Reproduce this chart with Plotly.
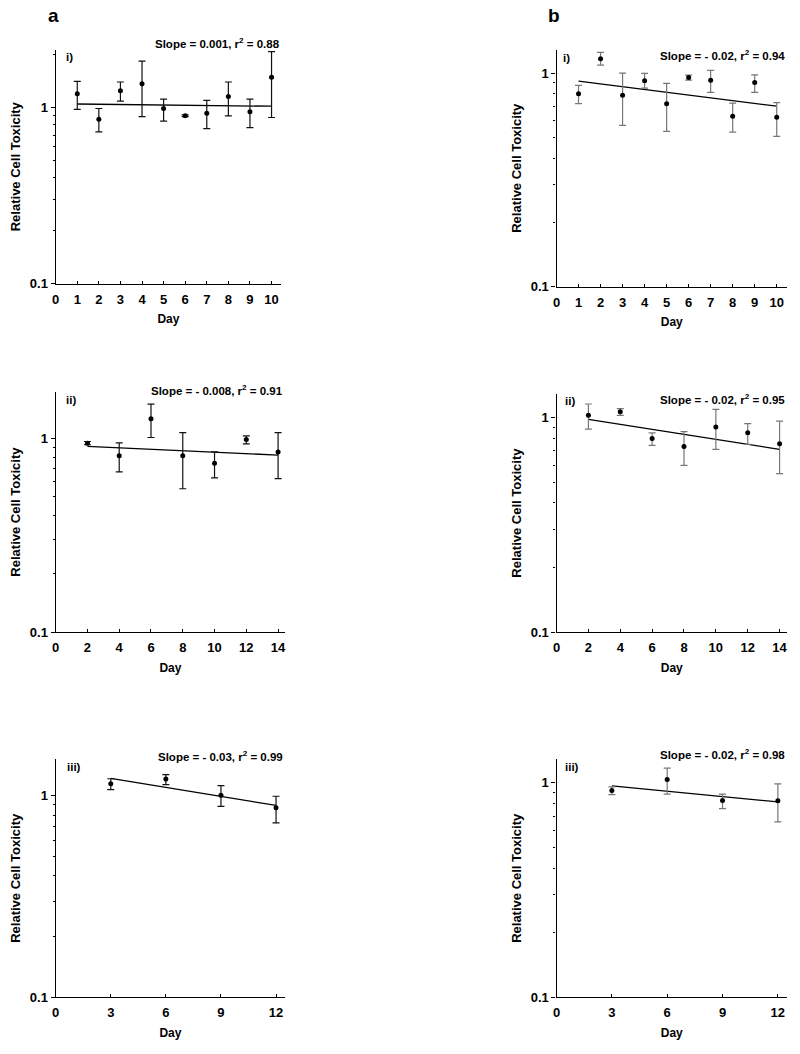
import plotly.graph_objects as go

W, H = 800, 1054

# ---------------- data ----------------
# Panel a-i
a1_day = [1, 2, 3, 4, 5, 6, 7, 8, 9, 10]
a1_val = [1.20, 0.86, 1.25, 1.37, 0.99, 0.90, 0.93, 1.16, 0.95, 1.49]
a1_hi = [1.41, 0.99, 1.40, 1.84, 1.12, 0.91, 1.10, 1.40, 1.12, 2.08]
a1_lo = [0.98, 0.73, 1.09, 0.89, 0.84, 0.89, 0.76, 0.90, 0.77, 0.88]
a1_fit_day = [1, 10]
a1_fit_val = [1.05, 1.02]

# Panel b-i
b1_day = [1, 2, 3, 4, 5, 6, 7, 8, 9, 10]
b1_val = [0.80, 1.166, 0.787, 0.92, 0.718, 0.955, 0.925, 0.629, 0.905, 0.622]
b1_hi = [0.877, 1.25, 1.00, 0.998, 0.895, 0.979, 1.03, 0.723, 0.982, 0.728]
b1_lo = [0.72, 1.09, 0.57, 0.85, 0.534, 0.928, 0.813, 0.53, 0.813, 0.506]
b1_fit_day = [1, 10]
b1_fit_val = [0.918, 0.700]

# Panel a-ii
a2_day = [2, 4, 6, 8, 10, 12, 14]
a2_val = [0.946, 0.815, 1.266, 0.815, 0.744, 0.988, 0.851]
a2_hi = [0.965, 0.95, 1.506, 1.073, 0.854, 1.032, 1.073]
a2_lo = [0.928, 0.672, 1.012, 0.55, 0.626, 0.939, 0.621]
a2_fit_day = [2, 14]
a2_fit_val = [0.910, 0.821]

# Panel b-ii
b2_day = [2, 4, 6, 8, 10, 12, 14]
b2_val = [1.025, 1.066, 0.80, 0.734, 0.905, 0.849, 0.755]
b2_hi = [1.157, 1.10, 0.849, 0.861, 1.093, 0.938, 0.962]
b2_lo = [0.883, 1.025, 0.742, 0.599, 0.711, 0.75, 0.548]
b2_fit_day = [2, 14]
b2_fit_val = [0.982, 0.711]

# Panel a-iii
a3_day = [3, 6, 9, 12]
a3_val = [1.145, 1.207, 1.004, 0.87]
a3_hi = [1.211, 1.268, 1.12, 0.992]
a3_lo = [1.07, 1.132, 0.883, 0.732]
a3_fit_day = [3, 12]
a3_fit_val = [1.216, 0.893]

# Panel b-iii
b3_day = [3, 6, 9, 12]
b3_val = [0.921, 1.036, 0.828, 0.825]
b3_hi = [0.958, 1.17, 0.886, 0.989]
b3_lo = [0.88, 0.886, 0.758, 0.657]
b3_fit_day = [3, 12]
b3_fit_val = [0.968, 0.814]

slope_texts = ["Slope = 0.001, r<sup>2</sup> = 0.88", "Slope = - 0.02, r<sup>2</sup> = 0.94",
               "Slope = - 0.008, r<sup>2</sup> = 0.91", "Slope = - 0.02, r<sup>2</sup> = 0.95",
               "Slope = - 0.03, r<sup>2</sup> = 0.99", "Slope = - 0.02, r<sup>2</sup> = 0.98"]
panel_labels = ["i)", "i)", "ii)", "ii)", "iii)", "iii)"]
x_ticks = [list(range(0, 11)), list(range(0, 11)), list(range(0, 15, 2)),
           list(range(0, 15, 2)), [0, 3, 6, 9, 12], [0, 3, 6, 9, 12]]

panels = [
    (a1_day, a1_val, a1_hi, a1_lo, a1_fit_day, a1_fit_val),
    (b1_day, b1_val, b1_hi, b1_lo, b1_fit_day, b1_fit_val),
    (a2_day, a2_val, a2_hi, a2_lo, a2_fit_day, a2_fit_val),
    (b2_day, b2_val, b2_hi, b2_lo, b2_fit_day, b2_fit_val),
    (a3_day, a3_val, a3_hi, a3_lo, a3_fit_day, a3_fit_val),
    (b3_day, b3_val, b3_hi, b3_lo, b3_fit_day, b3_fit_val),
]

# ---------------- geometry (page pixels) ----------------
# (x0, x1, ytop, ybottom, xmax, ylogtop)
geom = [
    (52, 279, 50, 286, 10.45, 0.33),
    (556, 788, 50, 289, 10.47, 0.11),
    (52, 283, 395, 637, 14.45, 0.24),
    (556, 788, 397, 637, 14.47, 0.11),
    (52, 283, 765, 1005, 12.5, 0.18),
    (556, 788, 765, 1005, 12.5, 0.11),
]
slope_pos = [(280, 43), (788, 55), (283, 393), (788, 402), (283, 762), (788, 760)]
label_pos = [(60, 57), (561, 58), (60, 403), (563, 404), (61, 773), (563, 773)]


def px(x):
    return x / W


def py(y):
    return 1 - y / H


FONT = "Liberation Sans, Arial, sans-serif"
fig = go.Figure()
annotations = []

for i, (p, g) in enumerate(zip(panels, geom)):
    day, val, hi, lo, fd, fv = p
    x0, x1, yt, yb, xmax, ltop = g
    n = i + 1
    xa = "x" if n == 1 else f"x{n}"
    ya = "y" if n == 1 else f"y{n}"
    err_col = "#111111" if i % 2 == 0 else "#777777"
    fig.add_trace(go.Scatter(
        x=fd, y=fv, mode="lines", line=dict(color="black", width=1.3),
        xaxis=xa, yaxis=ya, showlegend=False, hoverinfo="skip"))
    fig.add_trace(go.Scatter(
        x=day, y=val, mode="markers",
        marker=dict(color="black", size=5),
        error_y=dict(type="data", symmetric=False,
                     array=[h - v for h, v in zip(hi, val)],
                     arrayminus=[v - l for v, l in zip(val, lo)],
                     color=err_col, thickness=1.2, width=3.5),
        xaxis=xa, yaxis=ya, showlegend=False))
    xkey = "xaxis" if n == 1 else f"xaxis{n}"
    ykey = "yaxis" if n == 1 else f"yaxis{n}"
    fig.layout[xkey] = dict(
        domain=[px(x0), px(x1)], anchor=ya, range=[0, xmax],
        tickmode="array", tickvals=x_ticks[i], ticktext=[str(t) for t in x_ticks[i]],
        showline=True, linecolor="black", linewidth=1.3,
        ticks="inside", ticklen=3, tickcolor="black",
        showgrid=False, zeroline=False, ticklabelstandoff=3,
        tickfont=dict(family=FONT, size=13, color="black", weight="bold"),
        title=dict(text="<b>Day</b>", font=dict(family=FONT, size=12, color="black"), standoff=9),
    )
    fig.layout[ykey] = dict(
        domain=[py(yb), py(yt)], anchor=xa, type="log", range=[-1, ltop],
        tickmode="array", tickvals=[0.1, 1], ticktext=["0.1", "1"],
        showline=True, linecolor="black", linewidth=1.3,
        ticks="outside", ticklen=4, tickcolor="black",
        minor=dict(tickvals=[0.2, 0.3, 0.4, 0.5, 0.6, 0.7, 0.8, 0.9, 2, 3],
                   ticks="outside", ticklen=2, tickcolor="black", showgrid=False),
        showgrid=False, zeroline=False,
        tickfont=dict(family=FONT, size=13, color="black", weight="bold"),
        title=dict(text="<b>Relative Cell Toxicity</b>", font=dict(family=FONT, size=13, color="black"), standoff=6),
    )
    sx, sy = slope_pos[i]
    annotations.append(dict(
        x=px(sx), y=py(sy), xref="paper", yref="paper", xanchor="right", yanchor="middle",
        text=f"<b>{slope_texts[i]}</b>", showarrow=False,
        font=dict(family=FONT, size=11.5, color="black")))
    lx, ly = label_pos[i]
    annotations.append(dict(
        x=px(lx), y=py(ly), xref="paper", yref="paper", xanchor="left", yanchor="middle",
        text=f"<b>{panel_labels[i]}</b>", showarrow=False,
        font=dict(family=FONT, size=11.5, color="black")))

annotations.append(dict(x=px(50), y=py(16), xref="paper", yref="paper", xanchor="center",
                        yanchor="middle", text="<b>a</b>", showarrow=False,
                        font=dict(family=FONT, size=19, color="black")))
annotations.append(dict(x=px(553), y=py(16), xref="paper", yref="paper", xanchor="center",
                        yanchor="middle", text="<b>b</b>", showarrow=False,
                        font=dict(family=FONT, size=19, color="black")))

fig.update_layout(
    width=W, height=H, margin=dict(l=0, r=0, t=0, b=0),
    paper_bgcolor="white", plot_bgcolor="white",
    annotations=annotations, showlegend=False,
)
fig.write_html(
    "out.html",
    config={"displayModeBar": False},
    post_script="document.body.style.margin='0px';document.body.style.padding='0px';"
                "document.documentElement.style.overflow='hidden';",
)
